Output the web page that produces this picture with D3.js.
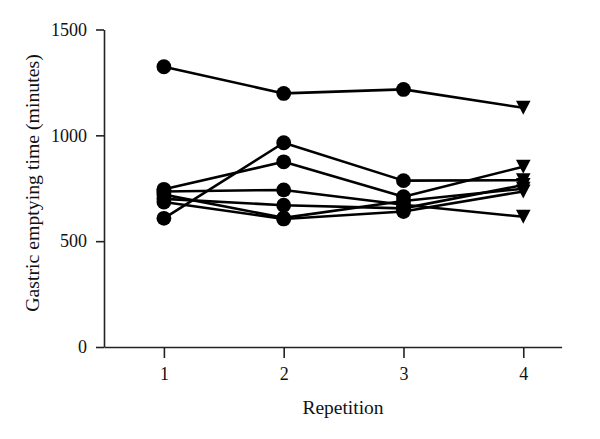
<!DOCTYPE html>
<html>
<head>
<meta charset="utf-8">
<script src="https://cdn.jsdelivr.net/npm/d3@7"></script>
<style>
  body { margin: 0; background: #fff; }
  svg { display: block; }
  text { font-family: "Liberation Serif", "DejaVu Serif", serif; fill: #111; }
</style>
</head>
<body>
<svg id="chart" width="600" height="439"></svg>
<script>
// repetition number on x, minutes on y
const repetitions = [1, 2, 3, 4];
const yTicks = [0, 500, 1000, 1500];

// one array per subject
const subject1 = [1324, 1198, 1217, 1130];
const subject2 = [608, 965, 786, 788];
const subject3 = [745, 875, 710, 852];
const subject4 = [735, 742, 672, 615];
const subject5 = [700, 670, 655, 765];
const subject6 = [685, 605, 640, 735];
const subject7 = [720, 610, 690, 748];

const series = [subject1, subject2, subject3, subject4, subject5, subject6, subject7];

let svg = d3.select('#chart');

let x = d3.scaleLinear()
  .domain([0.5, 4.32])
  .range([104, 561.6]);

let y = d3.scaleLinear()
  .domain([0, 1500])
  .range([347, 29.5]);

// axes
let yAxis = svg.append('g')
  .attr('transform', `translate(${x(0.5)},0)`)
  .call(d3.axisLeft(y).tickValues(yTicks).tickFormat(d3.format('d'))
    .tickSize(8).tickPadding(9).tickSizeOuter(0));

let xAxis = svg.append('g')
  .attr('transform', `translate(0,${y(0)})`)
  .call(d3.axisBottom(x).tickValues(repetitions).tickFormat(d3.format('d'))
    .tickSize(11).tickPadding(9).tickSizeOuter(0));

[yAxis, xAxis].forEach(ax => {
  ax.select('.domain').attr('stroke', '#222').attr('stroke-width', 1.6);
  ax.selectAll('.tick line').attr('stroke', '#222').attr('stroke-width', 1.6);
  ax.selectAll('.tick text')
    .attr('fill', '#111')
    .style('font-size', '18px')
    .style('font-family', '"Liberation Serif", serif');
});

// lines
let line = d3.line()
  .x((d, i) => x(repetitions[i]))
  .y(d => y(d));

let plot = svg.append('g');

plot.selectAll('path.series')
  .data(series)
  .enter()
  .append('path')
  .attr('class', 'series')
  .attr('d', line)
  .attr('fill', 'none')
  .attr('stroke', '#000')
  .attr('stroke-width', 2.6)
  .attr('stroke-linejoin', 'round');

// markers: circles for 1-3, down triangles for 4
let points = [];
series.forEach((s, si) => {
  s.forEach((v, i) => points.push({ rep: repetitions[i], value: v, subject: si }));
});

plot.selectAll('circle')
  .data(points.filter(d => d.rep < 4))
  .enter()
  .append('circle')
  .attr('cx', d => x(d.rep))
  .attr('cy', d => y(d.value))
  .attr('r', 7.4)
  .attr('fill', '#000');

plot.selectAll('path.tri')
  .data(points.filter(d => d.rep === 4))
  .enter()
  .append('path')
  .attr('class', 'tri')
  .attr('d', 'M-7.3,-7 L7.3,-7 L0,7 Z')
  .attr('transform', d => `translate(${x(d.rep)},${y(d.value)})`)
  .attr('fill', '#000');

// axis titles
svg.append('text')
  .text('Repetition')
  .attr('x', 343)
  .attr('y', 414)
  .attr('text-anchor', 'middle')
  .style('font-size', '19.5px');

svg.append('text')
  .text('Gastric emptying time (minutes)')
  .attr('transform', 'translate(38.5,183) rotate(-90)')
  .attr('text-anchor', 'middle')
  .style('font-size', '19.8px');
</script>
</body>
</html>
